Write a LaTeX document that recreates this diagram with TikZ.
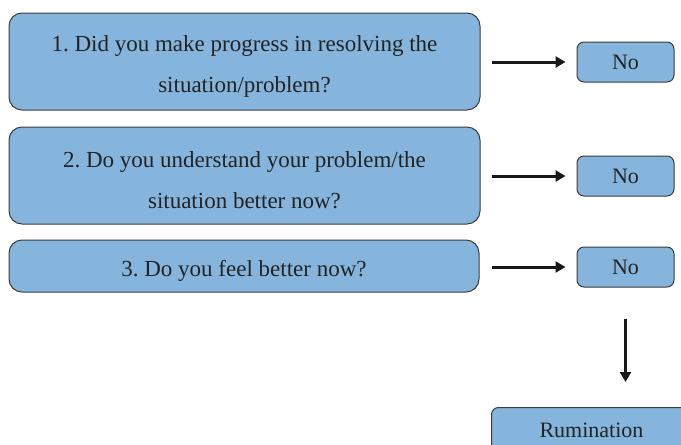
\documentclass[tikz,border=0pt]{standalone}
\usepackage{fontspec}
\setmainfont{Liberation Serif}
\usetikzlibrary{arrows.meta}
\frenchspacing
\definecolor{boxfill}{RGB}{133,181,221}
\definecolor{boxline}{RGB}{60,60,60}
\definecolor{txt}{RGB}{35,35,35}
\tikzset{
  qbox/.style={draw=boxline, line width=1pt, fill=boxfill, rounded corners=13pt,
    minimum width=471pt, inner sep=0pt, align=center, text=txt,
    font=\fontsize{23}{41}\selectfont},
  nobox/.style={draw=boxline, line width=1pt, fill=boxfill, rounded corners=7pt,
    minimum width=97pt, minimum height=40pt, inner sep=0pt, text=txt,
    font=\fontsize{22}{26}\selectfont},
  arr/.style={line width=3pt, draw=black!90, -{Triangle[length=10pt,width=11pt]}}
}
\begin{document}
\begin{tikzpicture}[x=1pt,y=-1pt]
\useasboundingbox (0,0) rectangle (681,445);
\clip (0,0) rectangle (681,445);
\node[qbox, minimum height=97pt] (b1) at (244.5,61.5)
  {\rule{0pt}{26pt}1. Did you make progress in resolving the\\situation/problem?};
\node[qbox, minimum height=97pt] (b2) at (244.5,175.5)
  {\rule{0pt}{26pt}2. Do you understand your problem/the\\situation better now?};
\node[qbox, minimum height=52pt, minimum width=470pt] (b3) at (244,266)
  {\rule{0pt}{26pt}3. Do you feel better now?};
\node[nobox] (n1) at (625.5,62) {No};
\node[nobox] (n2) at (625.5,176) {No};
\node[nobox] (n3) at (625.5,267) {No};
\node[nobox, minimum width=200pt, minimum height=46pt, anchor=north west] (r) at (491,407)
  {\raisebox{-3pt}{Rumination}};
\draw[arr, shorten <=11pt, shorten >=11pt] (b1.east |- n1) -- (n1.west);
\draw[arr, shorten <=11pt, shorten >=11pt] (b2.east |- n2) -- (n2.west);
\draw[arr, shorten <=12pt, shorten >=11pt] (b3.east |- n3) -- (n3.west);
\draw[arr, shorten <=31pt, shorten >=25pt] (n3.south) -- (n3.south |- r.north);
\end{tikzpicture}
\end{document}
